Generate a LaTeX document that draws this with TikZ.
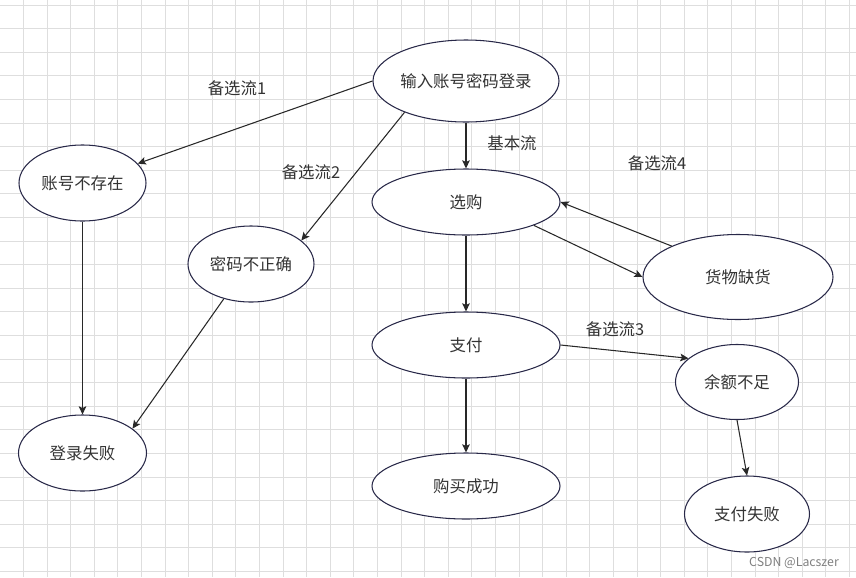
\documentclass[tikz,border=0pt]{standalone}
\usepackage{fontspec}
\usepackage{tikz}
\usetikzlibrary{shapes.geometric, arrows.meta}
\newfontfamily\cjk{Noto Sans CJK SC}
\definecolor{edgegray}{RGB}{40,40,40}
\definecolor{ellline}{RGB}{40,40,72}
\definecolor{txtgray}{RGB}{51,51,51}
\definecolor{gridgray}{RGB}{222,222,222}

\begin{document}
\begin{tikzpicture}[x=0.03cm, y=-0.03cm,
    statebox/.style={draw=ellline, line width=0.9pt, fill=white, ellipse, inner sep=0pt, text=txtgray, font=\cjk\fontsize{14}{16}\selectfont},
    flowlabel/.style={text=txtgray, inner sep=0pt, font=\cjk\fontsize{14}{16}\selectfont},
    flow/.style={draw=edgegray, line width=0.9pt, arrows={-Stealth[length=7pt, width=6.5pt, inset=1.5pt]}},
    gridline/.style={draw=gridgray, line width=0.6pt}]

    \fill[white] (0,0) rectangle (856,577);
    \useasboundingbox (0,0) rectangle (856,577);
    \foreach \i in {0,...,36} \draw[gridline] ({23.3+23.6*(\i-1)},0) -- ++(0,577);
    \foreach \j in {0,...,24} \draw[gridline] (0,{5+23.6*\j}) -- ++(856,0);

    \node[statebox, minimum width=5.58cm, minimum height=2.46cm] at (466,81) (login) {输入账号密码登录};
    \node[statebox, minimum width=3.81cm, minimum height=2.28cm] at (82.5,183) (acct) {账号不存在};
    \node[statebox, minimum width=3.78cm, minimum height=2.28cm] at (251,264) (pwd) {密码不正确};
    \node[statebox, minimum width=3.84cm, minimum height=2.28cm] at (82.5,453) (fail) {登录失败};

    \node[statebox, minimum width=5.64cm, minimum height=1.98cm] at (466,202) (shop) {选购};
    \node[statebox, minimum width=5.7cm, minimum height=2.55cm] at (738,277) (short) {货物缺货};
    \node[statebox, minimum width=5.64cm, minimum height=1.98cm] at (466,345) (pay) {支付};
    \node[statebox, minimum width=3.69cm, minimum height=2.25cm] at (737,382) (bal) {余额不足};
    \node[statebox, minimum width=5.64cm, minimum height=1.98cm] at (466,486) (done) {购买成功};
    \node[statebox, minimum width=3.75cm, minimum height=2.28cm] at (747,514) (payfail) {支付失败};

    \node[flowlabel] at (237,88) (alt1) {备选流1};
    \node[flowlabel] at (311,172) (alt2) {备选流2};
    \node[flowlabel] at (512,143) (basic) {基本流};
    \node[flowlabel] at (657,163) (alt4) {备选流4};
    \node[flowlabel] at (615,329) (alt3) {备选流3};

    \draw[flow] (login.west) -- (acct);
    \draw[flow] (login.207) -- (pwd.25);
    \draw[flow] (acct.south) -- (fail.north);
    \draw[flow] (pwd.232) -- (fail.26);

    \draw[flow] (login.south) -- (shop.north);
    \draw[flow] (shop.341) -- (short.west);
    \draw[flow] (short.155) -- (shop.east);
    \draw[flow] (shop.south) -- (pay.north);
    \draw[flow] (pay.east) -- (bal.154);
    \draw[flow] (pay.south) -- (done.north);
    \draw[flow] (bal.south) -- (payfail.north);

    \node[text=gray, inner sep=0pt, font=\cjk\fontsize{10.5}{12}\selectfont] at (794,563) (mark) {CSDN @Lacszer};
\end{tikzpicture}
\end{document}
